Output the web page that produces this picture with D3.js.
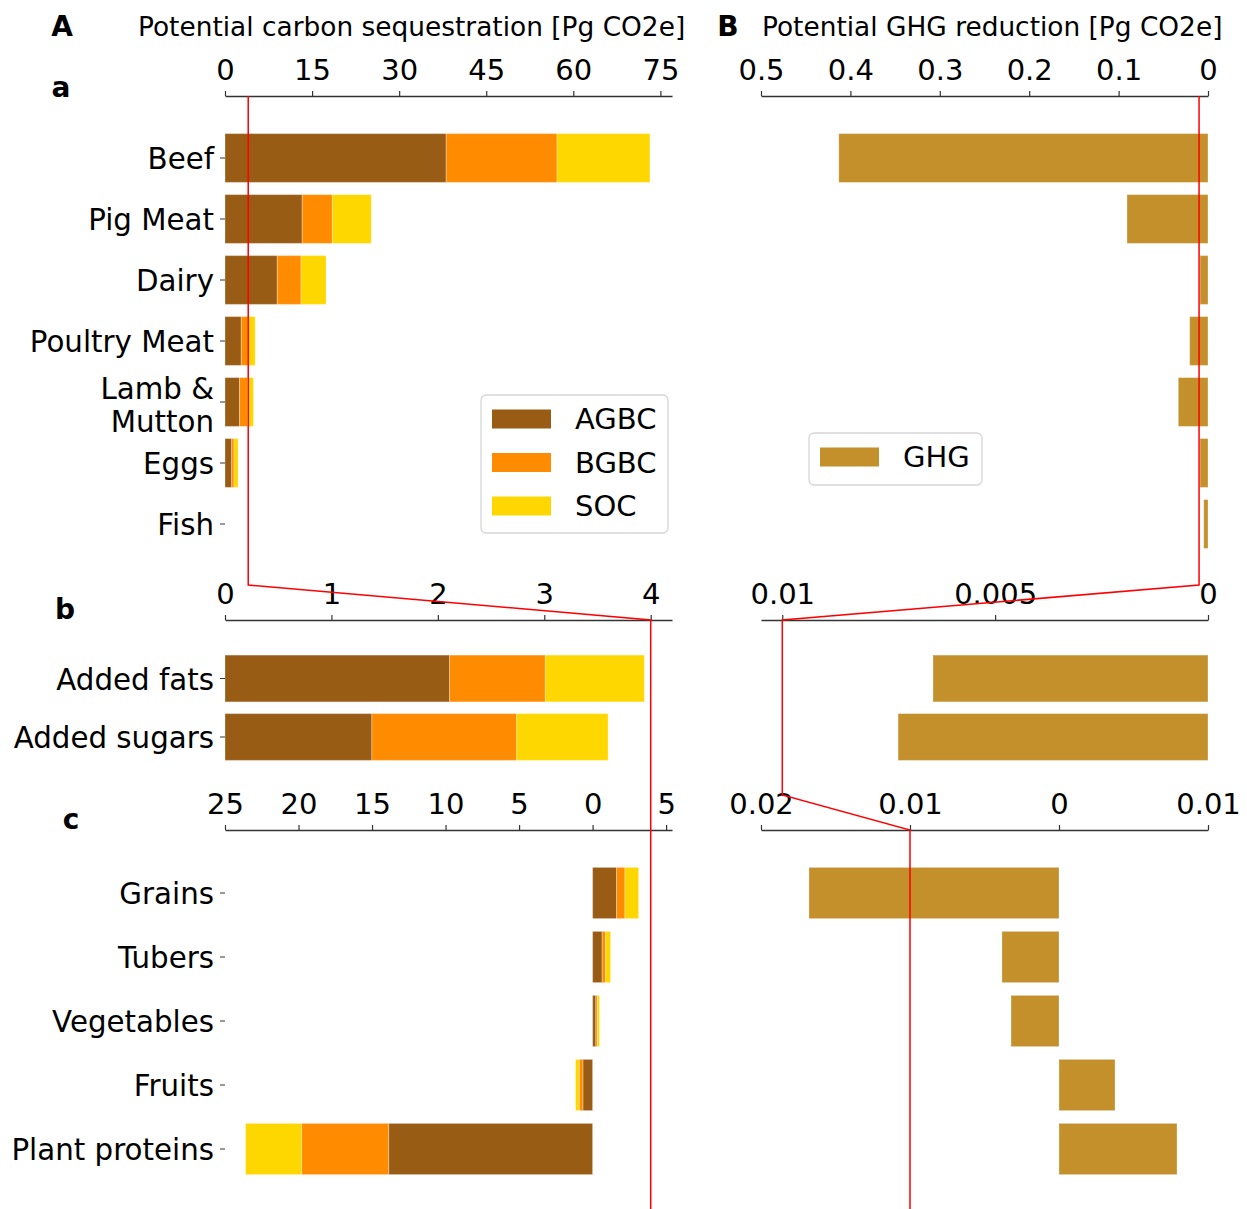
<!DOCTYPE html>
<html>
<head>
<meta charset="utf-8">
<script src="https://cdn.jsdelivr.net/npm/d3@7"></script>
<style>
  body { margin: 0; background: #fff; }
  text { font-family: "DejaVu Sans", sans-serif; }
</style>
</head>
<body>
<script>
// ---- data ----
var catsA = ["Beef", "Pig Meat", "Dairy", "Poultry Meat", "Lamb & Mutton", "Eggs", "Fish"];
var agbcA = [38.1, 13.3, 9.0, 2.8, 2.5, 1.15, 0];
var bgbcA = [19.1, 5.2, 4.1, 1.2, 1.4, 0.4, 0];
var socA  = [16.0, 6.7, 4.3, 1.2, 1.0, 0.7, 0];
var ghgA  = [0.413, 0.0906, 0.0089, 0.0205, 0.0332, 0.0089, 0.0048];

var catsB = ["Added fats", "Added sugars"];
var agbcB = [2.11, 1.38];
var bgbcB = [0.90, 1.36];
var socB  = [0.93, 0.86];
var ghgB  = [0.00646, 0.00728];

var catsC = ["Grains", "Tubers", "Vegetables", "Fruits", "Plant proteins"];
var agbcC = [1.63, 0.65, 0.22, -0.66, -13.87];
var bgbcC = [0.57, 0.23, 0.11, -0.25, -5.92];
var socC  = [0.93, 0.34, 0.14, -0.25, -3.81];
var ghgC  = [0.01678, 0.00383, 0.00322, -0.00376, -0.00792];

var ticksAL = [0, 15, 30, 45, 60, 75];
var ticksAR = [0.5, 0.4, 0.3, 0.2, 0.1, 0];
var ticksBL = [0, 1, 2, 3, 4];
var ticksBR = [0.01, 0.005, 0];
var ticksCL = [-25, -20, -15, -10, -5, 0, 5];
var ticksCR = [0.02, 0.01, 0, -0.01];

var seriesKeys = ["AGBC", "BGBC", "SOC"];
var colors = {AGBC: "#995c15", BGBC: "#ff8c00", SOC: "#ffd700", GHG: "#c3902b"};

// zoom connector values
var zoomLeft = 4, zoomRightAB = 0.01, zoomRightBC = 0.01;

var W = 1247, H = 1209;
var svg = d3.select("body").append("svg").attr("width", W).attr("height", H);

var xL0 = 225, xL1 = 672, xR0 = 761, xR1 = 1208;
var fmt = function(d) { return d3.format("~g")(Math.abs(d)); };

var panels = [
  {cats: catsA, agbc: agbcA, bgbc: bgbcA, soc: socA, ghg: ghgA, axisY: 96,
   range: [127.5, 554.5], domL: [0, 77], domR: [0.5, 0], tL: ticksAL, tR: ticksAR},
  {cats: catsB, agbc: agbcB, bgbc: bgbcB, soc: socB, ghg: ghgB, axisY: 620,
   range: [649.25, 766.25], domL: [0, 4.2], domR: [0.0105, 0], tL: ticksBL, tR: ticksBR},
  {cats: catsC, agbc: agbcC, bgbc: bgbcC, soc: socC, ghg: ghgC, axisY: 830,
   range: [861, 1181], domL: [-25, 5.4], domR: [0.02, -0.01], tL: ticksCL, tR: ticksCR}
];

panels.forEach(function(p) {
  p.xl = d3.scaleLinear().domain(p.domL).range([xL0, xL1]);
  p.xr = d3.scaleLinear().domain(p.domR).range([xR0, xR1]);
  p.y = d3.scaleBand().domain(p.cats).range(p.range).paddingInner(0.2).paddingOuter(0.1);

  var rows = p.cats.map(function(c, i) {
    return {cat: c, AGBC: p.agbc[i], BGBC: p.bgbc[i], SOC: p.soc[i], GHG: p.ghg[i]};
  });
  var stacked = d3.stack().keys(seriesKeys).offset(d3.stackOffsetDiverging)(rows);

  // stacked sequestration bars
  svg.append("g").selectAll("g").data(stacked).join("g")
    .attr("fill", function(s) { return colors[s.key]; })
    .selectAll("rect").data(function(s) { return s; }).join("rect")
      .attr("x", function(d) { return p.xl(Math.min(d[0], d[1])); })
      .attr("width", function(d) { return Math.abs(p.xl(d[1]) - p.xl(d[0])); })
      .attr("y", function(d) { return p.y(d.data.cat); })
      .attr("height", p.y.bandwidth())
      .attr("stroke", "#fff").attr("stroke-opacity", 0.3).attr("stroke-width", 1);

  // GHG bars
  svg.append("g").selectAll("rect").data(rows).join("rect")
    .attr("fill", colors.GHG)
    .attr("x", function(d) { return Math.min(p.xr(d.GHG), p.xr(0)); })
    .attr("width", function(d) { return Math.abs(p.xr(d.GHG) - p.xr(0)); })
    .attr("y", function(d) { return p.y(d.cat); })
    .attr("height", p.y.bandwidth())
    .attr("stroke", "#fff").attr("stroke-opacity", 0.3).attr("stroke-width", 1);

  // top axes
  [[p.xl, p.tL], [p.xr, p.tR]].forEach(function(a) {
    var g = svg.append("g")
      .attr("transform", "translate(0," + p.axisY + ")")
      .call(d3.axisTop(a[0]).tickValues(a[1]).tickFormat(fmt).tickSize(5).tickPadding(11).tickSizeOuter(0));
    g.select(".domain").attr("stroke", "#333").attr("stroke-width", 1.3);
    g.selectAll(".tick line").attr("stroke", "#333").attr("stroke-width", 1.2);
    g.selectAll("text").attr("font-size", 29).attr("fill", "#000")
      .attr("font-family", "DejaVu Sans");
  });

  // category axis
  var gy = svg.append("g")
    .attr("transform", "translate(" + xL0 + ",0)")
    .call(d3.axisLeft(p.y).tickSize(5).tickPadding(6));
  gy.select(".domain").remove();
  gy.selectAll(".tick line").attr("stroke", "#333");
  gy.selectAll("text").attr("font-size", 29.3).attr("fill", "#000")
    .attr("font-family", "DejaVu Sans").attr("dy", "0.38em")
    .each(function(d) {
      if (d === "Lamb & Mutton") {
        var t = d3.select(this).text(null);
        t.append("tspan").attr("x", -11).attr("dy", "-0.09em").text("Lamb &");
        t.append("tspan").attr("x", -11).attr("dy", "1.13em").text("Mutton");
      }
    });
});

// zoom connector lines
var pa = panels[0], pb = panels[1], pc = panels[2];
var lineGen = d3.line();
svg.append("path")
  .attr("d", lineGen([
    [pa.xl(zoomLeft), pa.axisY], [pa.xl(zoomLeft), pb.axisY - 35],
    [pb.xl(zoomLeft), pb.axisY], [pb.xl(zoomLeft), H]
  ]))
  .attr("fill", "none").attr("stroke", "red").attr("stroke-width", 1.5);
svg.append("path")
  .attr("d", lineGen([
    [pa.xr(zoomRightAB), pa.axisY], [pa.xr(zoomRightAB), pb.axisY - 35],
    [pb.xr(zoomRightAB), pb.axisY], [pb.xr(zoomRightBC), pc.axisY - 35],
    [pc.xr(zoomRightBC), pc.axisY], [pc.xr(zoomRightBC), H]
  ]))
  .attr("fill", "none").attr("stroke", "red").attr("stroke-width", 1.5);

// titles and panel letters
svg.append("text").attr("x", 138).attr("y", 36).attr("font-size", 26.4)
  .text("Potential carbon sequestration [Pg CO2e]");
svg.append("text").attr("x", 762).attr("y", 36).attr("font-size", 26.4)
  .text("Potential GHG reduction [Pg CO2e]");
[["A", 62, 36], ["B", 728, 36], ["a", 61, 97], ["b", 65, 619], ["c", 71, 829]].forEach(function(l) {
  svg.append("text").attr("x", l[1]).attr("y", l[2]).attr("text-anchor", "middle")
    .attr("font-size", 28).attr("font-weight", "bold").text(l[0]);
});

// legends
function legend(x, y, w, h, keys) {
  var g = svg.append("g").attr("transform", "translate(" + x + "," + y + ")");
  g.append("rect").attr("width", w).attr("height", h).attr("rx", 5)
    .attr("fill", "#fff").attr("fill-opacity", 0.8)
    .attr("stroke", "#d6d6d6").attr("stroke-width", 1.3);
  keys.forEach(function(k, i) {
    var cy = 24 + i * 43.5;
    g.append("rect").attr("x", 11).attr("y", cy - 9.5).attr("width", 59).attr("height", 19)
      .attr("fill", colors[k]);
    g.append("text").attr("x", 94).attr("y", cy).attr("dy", "0.35em")
      .attr("font-size", 29).text(k);
  });
}
legend(481, 395, 187, 138, seriesKeys);
legend(809, 433, 173, 52, ["GHG"]);
</script>
</body>
</html>
